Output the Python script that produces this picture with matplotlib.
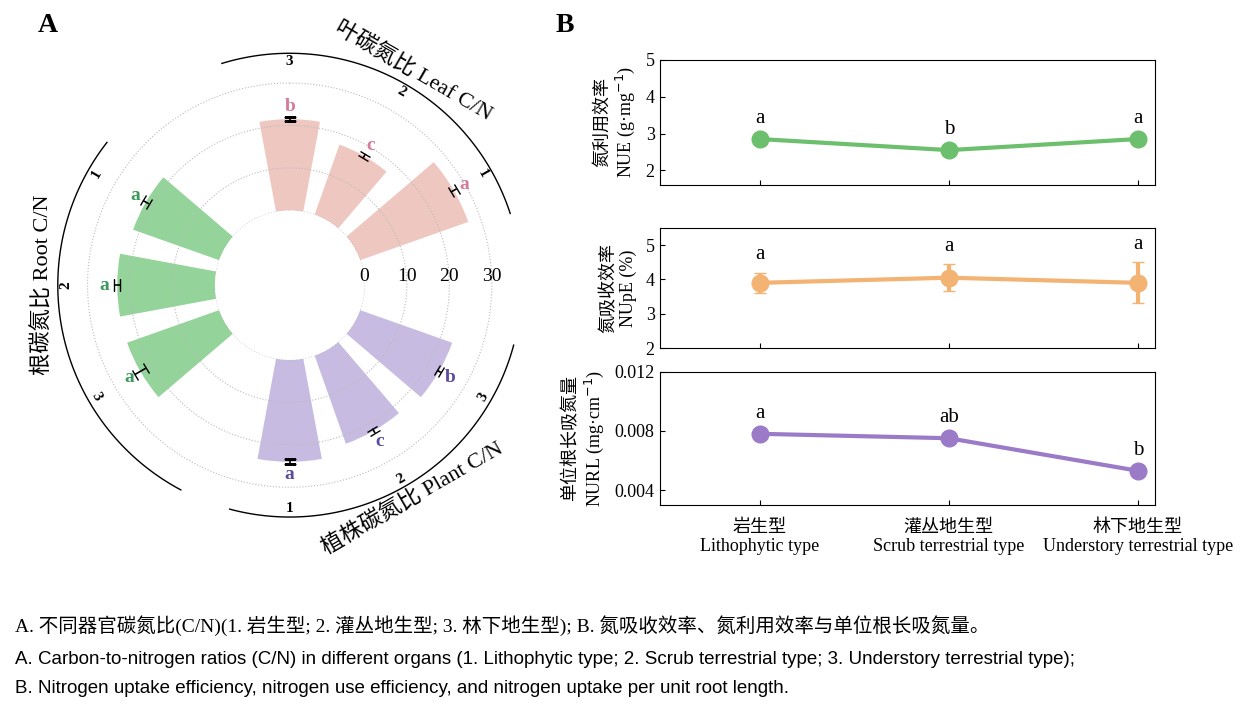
import numpy as np
import matplotlib.pyplot as plt

plt.rcParams['font.family'] = ['Liberation Serif', 'Noto Sans CJK SC']
plt.rcParams['axes.unicode_minus'] = False

# Data
# Panel A: C/N ratios (types 1, 2, 3)
leaf_cn = [27.0, 17.5, 21.5]
leaf_err = [0.8, 0.6, 0.5]
leaf_sig = ['a', 'c', 'b']
root_cn = [21.5, 23.0, 23.0]
root_err = [0.8, 0.7, 1.5]
root_sig = ['a', 'a', 'a']
plant_cn = [24.0, 22.0, 23.0]
plant_err = [0.6, 0.6, 0.5]
plant_sig = ['a', 'c', 'b']

# Panel B
types_cn = ['岩生型', '灌丛地生型', '林下地生型']
types_en = ['Lithophytic type', 'Scrub terrestrial type', 'Understory terrestrial type']
nue = [2.85, 2.55, 2.85]
nue_err = [0.05, 0.05, 0.05]
nue_sig = ['a', 'b', 'a']
nupe = [3.9, 4.05, 3.9]
nupe_err = [0.3, 0.4, 0.6]
nupe_sig = ['a', 'a', 'a']
nurl = [0.0078, 0.0075, 0.0053]
nurl_err = [0.0001, 0.0001, 0.0001]
nurl_sig = ['a', 'ab', 'b']

fig = plt.figure(figsize=(12.54, 7.12), dpi=100)

# ---- Panel A: circular bar chart ----
ax = fig.add_axes([0.019, 0.226, 0.424, 0.747], projection='polar')
ax.set_theta_zero_location('N')
ax.set_theta_direction(-1)
ax.set_rorigin(-17.6)
ax.set_ylim(0, 45)
ax.axis('off')

groups = [
    (leaf_cn, leaf_err, leaf_sig, [60, 30, 0], '#ecbdb6', '#d27c98'),
    (plant_cn, plant_err, plant_sig, [180, 150, 120], '#bfb0dc', '#5c4c9c'),
    (root_cn, root_err, root_sig, [300, 270, 240], '#82cc88', '#3d9a5c'),
]
width = np.deg2rad(21)
for vals, errs, sigs, angs, col, tcol in groups:
    th = np.deg2rad(angs)
    ax.bar(th, vals, width=width, bottom=0, color=col, alpha=0.85, edgecolor='none')
    ax.errorbar(th, vals, yerr=errs, fmt='none', ecolor='black', elinewidth=1.2, capsize=4)
    for t, v, s, a, n in zip(th, vals, sigs, angs, ['1', '2', '3']):
        ax.text(t, v + 3, s, color=tcol, fontsize=14, ha='center', va='center', fontweight='bold')
        rot = -a if (a <= 90 or a >= 270) else 180 - a
        ax.text(t, 35, n, fontsize=11, ha='center', va='center', rotation=rot, fontweight='bold')

# dotted grid circles
circ = np.linspace(0, 2 * np.pi, 360)
for r in [0, 10, 20, 30]:
    ax.plot(circ, [r] * len(circ), color='#bbbbbb', linestyle=':', linewidth=0.8)
    ax.text(np.deg2rad(90), r, str(r), fontsize=14, ha='center', va='bottom')

# outer arcs and group titles
arcs = [(-17, 72, 30, '叶碳氮比 Leaf C/N'), (105, 195, 150, '植株碳氮比 Plant C/N'),
        (208, 308, 270, '根碳氮比 Root C/N')]
for a0, a1, amid, label in arcs:
    th = np.deg2rad(np.linspace(a0, a1, 100))
    ax.plot(th, [37] * len(th), color='black', linewidth=1.0)
    rot = -amid if (amid <= 90 or amid >= 270) else 180 - amid
    ax.text(np.deg2rad(amid), 40.5, label, fontsize=16, ha='center', va='center', rotation=rot)

fig.text(0.03, 0.955, 'A', fontsize=20, fontweight='bold')
fig.text(0.443, 0.955, 'B', fontsize=20, fontweight='bold')

# ---- Panel B: three line panels ----
x = np.arange(3)
panels = [
    ([0.526, 0.740, 0.395, 0.176], nue, nue_err, nue_sig, '#6cbf6c', (1.6, 5.0), [2, 3, 4, 5],
     '氮利用效率\nNUE (g·mg$^{-1}$)'),
    ([0.526, 0.511, 0.395, 0.169], nupe, nupe_err, nupe_sig, '#f2b373', (2.0, 5.5), [2, 3, 4, 5],
     '氮吸收效率\nNUpE (%)'),
    ([0.526, 0.291, 0.395, 0.187], nurl, nurl_err, nurl_sig, '#9b7bc8', (0.003, 0.012),
     [0.004, 0.008, 0.012], '单位根长吸氮量\nNURL (mg·cm$^{-1}$)'),
]
for i, (pos, vals, errs, sigs, col, ylim, yt, ylab) in enumerate(panels):
    bx = fig.add_axes(pos)
    bx.errorbar(x, vals, yerr=errs, color=col, linewidth=3, marker='o', markersize=12,
                markeredgecolor=col, ecolor=col, capsize=4)
    bx.set_xlim(-0.53, 2.09)
    bx.set_ylim(*ylim)
    bx.set_yticks(yt)
    if i == 2:
        bx.set_yticklabels(['0.004', '0.008', '0.012'])
    bx.set_ylabel(ylab, fontsize=13, labelpad=6)
    bx.tick_params(direction='in', labelsize=13)
    span = ylim[1] - ylim[0]
    for xi, v, e, s in zip(x, vals, errs, sigs):
        bx.text(xi, v + e + span * 0.07, s, fontsize=15, ha='center', va='bottom')
    bx.set_xticks(x)
    if i == 2:
        bx.set_xticklabels([c + '\n' + e for c, e in zip(types_cn, types_en)], fontsize=13)
        bx.tick_params(axis='x', pad=10)
    else:
        bx.set_xticklabels([])

# caption
fig.text(0.012, 0.112, 'A. 不同器官碳氮比(C/N)(1. 岩生型; 2. 灌丛地生型; 3. 林下地生型); B. 氮吸收效率、氮利用效率与单位根长吸氮量。',
         fontsize=14)
fig.text(0.012, 0.068, 'A. Carbon-to-nitrogen ratios (C/N) in different organs (1. Lithophytic type; 2. Scrub terrestrial type; 3. Understory terrestrial type);',
         fontsize=13.5, family=['Liberation Sans', 'Noto Sans CJK SC'])
fig.text(0.012, 0.027, 'B. Nitrogen uptake efficiency, nitrogen use efficiency, and nitrogen uptake per unit root length.',
         fontsize=13.5, family=['Liberation Sans', 'Noto Sans CJK SC'])

plt.savefig('out.png', dpi=100)
